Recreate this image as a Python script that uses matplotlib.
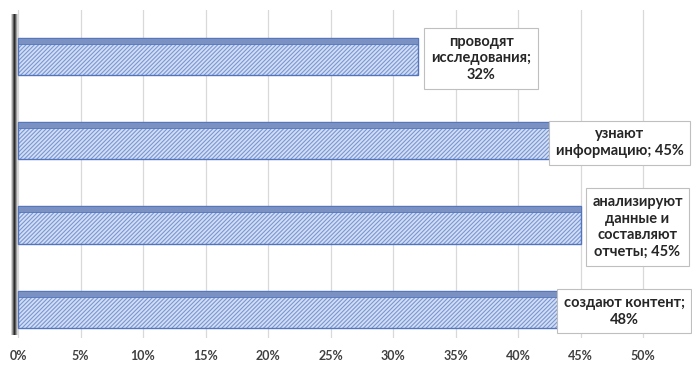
import numpy as np
import matplotlib.pyplot as plt

# data
categories = ["создают контент;\n48%",
              "анализируют\nданные и\nсоставляют\nотчеты; 45%",
              "узнают\nинформацию; 45%",
              "проводят\nисследования;\n32%"]
values = [48, 45, 45, 32]
ticks = [0, 5, 10, 15, 20, 25, 30, 35, 40, 45, 50]
tick_labels = [f"{t}%" for t in ticks]

# label box offsets from bar end (pixels)
label_dx = [6, 57, 39, 63]
label_dy = [-2, -2, -2, -2]

plt.rcParams['font.family'] = ['Lato', 'DejaVu Sans']
plt.rcParams['hatch.linewidth'] = 0.8

fig = plt.figure(figsize=(6.92, 3.79), dpi=100)
ax = fig.add_axes([8 / 692, 1 - 338 / 379, 640 / 692, 328 / 379])

y = np.arange(len(values))
ax.set_xlim(-0.8, 50.4)
ax.set_ylim(-0.34, 3.55)

# grid
for t in ticks:
    ax.axvline(t, color="#d9d9d9", lw=0.9, zorder=0)

# dark left wall (gradient)
grad = np.abs(np.linspace(-1, 1, 50)).reshape(1, -1)
ax.imshow(grad, extent=(-0.6, -0.05, -0.3, 3.5), aspect="auto",
          cmap="Greys_r", vmin=-0.1, vmax=1.2, zorder=1)

# bars: hatched face, then outline, then darker top face
h = 0.44
ax.barh(y, values, height=h, color="#d3def4", edgecolor="#7897d4",
        hatch="////////", lw=0, zorder=2)
ax.barh(y, values, height=h, color="none", edgecolor="#5275bd", lw=1.0, zorder=3)
ax.barh(y + h / 2 - 0.035, values, height=0.07, color="#7a91c2",
        edgecolor="#5275bd", lw=0.6, zorder=4)

# labels
for i, (v, txt) in enumerate(zip(values, categories)):
    ax.annotate(txt, xy=(v, i), xytext=(label_dx[i] * 0.72, label_dy[i] * 0.72),
                textcoords="offset points", ha="center", va="center",
                fontsize=10.5, fontweight="bold", color="#262626",
                linespacing=1.25, annotation_clip=False, zorder=6,
                bbox=dict(boxstyle="square,pad=0.45", fc="white",
                          ec="#bfbfbf", lw=0.8))

ax.set_xticks(ticks)
ax.set_xticklabels(tick_labels, fontsize=9, fontweight="bold", color="#404040")
ax.tick_params(axis="x", length=0, pad=9)
ax.set_yticks([])
for s in ax.spines.values():
    s.set_visible(False)

fig.savefig("out.png", dpi=100)
